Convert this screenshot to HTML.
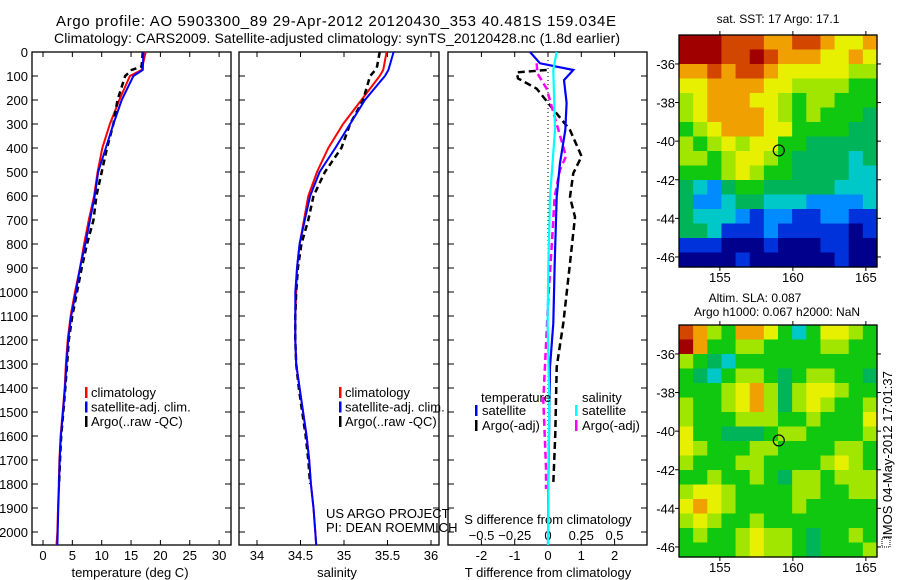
<!DOCTYPE html>
<html><head><meta charset="utf-8"><style>
body{margin:0;background:#fff;}
svg{display:block;font-family:"Liberation Sans",sans-serif;}
</style></head><body>
<svg id="fig" width="900" height="580" xmlns="http://www.w3.org/2000/svg">
<text x="56" y="26" font-size="15" textLength="560">Argo profile: AO 5903300_89 29-Apr-2012 20120430_353 40.481S 159.034E</text>
<text x="54" y="43" font-size="14" textLength="566">Climatology: CARS2009. Satellite-adjusted climatology: synTS_20120428.nc (1.8d earlier)</text>
<g id="g"></g>
</svg>
<script>
// ---- profile data ----
const tDepth=[0,75,100,200,300,400,500,600,700,800,900,1000,1100,1200,1300,1400,1500,1600,1700,1800,1900,2000,2054];
const tClim=[17.5,16.8,14.8,13.0,11.4,10.1,9.3,8.7,7.8,7.0,6.3,5.45,4.7,4.2,3.9,3.7,3.35,3.0,2.8,2.7,2.55,2.45,2.3];
const tSat=[17.1,17.0,15.4,13.4,12.0,10.7,9.4,8.8,8.0,7.2,6.3,5.6,4.8,4.3,4.0,3.75,3.4,3.05,2.85,2.75,2.6,2.5,2.45];
const argoDepth=[0,60,75,100,200,300,400,500,600,700,800,900,1000,1100,1200,1300,1400,1500,1600,1700,1800];
const tArgo=[17.0,16.8,15.1,14.0,12.7,12.0,10.9,10.0,9.1,8.6,7.5,6.6,5.8,5.0,4.4,4.1,3.8,3.45,3.1,2.9,2.75];
const sClim=[35.49,35.45,35.41,35.2,34.99,34.82,34.69,34.59,34.54,34.49,34.46,34.45,34.44,34.44,34.45,34.49,34.53,34.57,34.6,34.62,34.65,34.67,34.68];
const sSat=[35.57,35.51,35.47,35.24,35.07,34.9,34.72,34.61,34.55,34.49,34.46,34.44,34.44,34.44,34.45,34.49,34.53,34.57,34.6,34.62,34.65,34.67,34.68];
const sArgo=[35.41,35.38,35.36,35.3,35.22,35.07,34.97,34.78,34.65,34.59,34.51,34.47,34.45,34.44,34.44,34.45,34.48,34.52,34.56,34.59,34.61];
// differences
const dTsatDepth=[0,47,75,117,212,325,463,604,880,1130,1312,1812,2054];
const dTsat=[-0.54,-0.24,0.76,0.48,0.56,0.52,0.36,0.26,0.2,0.16,0.06,0.01,0];
const dTargoDepth=[75,85,110,153,222,325,435,505,604,688,880,1130,1312,1590,1799];
const dTargo=[-0.04,-0.94,-0.9,-0.34,0.06,0.66,1.01,0.76,0.66,0.81,0.66,0.46,0.26,0.22,0.16];
const dSsatDepth=[0,75,325,604,880,1130,1451,1812,2054];
const dSsat=[0.065,0.04,0.053,0.015,0.003,-0.003,0.01,0.003,0];
const dSargoDepth=[47,89,153,222,325,435,490,604,742,1020,1451,1729,1821];
const dSargo=[-0.085,-0.08,-0.01,0.025,0.078,0.135,0.09,0.05,0.035,0.003,-0.035,-0.015,-0.015];
const tTicks=[0,5,10,15,20,25,30];
const sTicks=[34,34.5,35,35.5,36];
const dtTicks=[-2,-1,0,1,2];
const dsTicks=[-0.5,-0.25,0,0.25,0.5];
const depthTicks=[0,100,200,300,400,500,600,700,800,900,1000,1100,1200,1300,1400,1500,1600,1700,1800,1900,2000];
// ---- map data (rows north->south, cols west->east) ----
const sstRows=["aaa99988998778","aaa99a98887787","88989987777766","77888877666655","67888776566555","67888876565554","56788877555544","65676775544444","66567765444434","55567655444433","43245544444333","42234433322223","43332122112211","44311121111101","11100010001100","00001000000100"];
const slaRows=["98658875357765","a8556655556655","65435555555555","54356654566554","55567864677655","65567864676556","65556665565557","75544456655556","76555665555665","65556655556765","55655654665666","67765555665566","78765555655555","67655655555555","56556766545565","55556766545556"];
const palette=["#00008c","#0032dc","#008cff","#00c8c8","#00b45a","#10c810","#a0e600","#e6f000","#f0a000","#d24600","#a00000"];
const mapLon=[155,160,165], mapLat=[-36,-38,-40,-42,-44,-46];
const argoLon=159.034, argoLat=-40.481;

const NS="http://www.w3.org/2000/svg";
const G=document.getElementById('g');
function el(tag,attrs,parent){const e=document.createElementNS(NS,tag);for(const k in attrs)e.setAttribute(k,attrs[k]);(parent||G).appendChild(e);return e;}
function txt(x,y,s,size,anchor,parent){const t=el('text',{x:x,y:y,'font-size':size,'text-anchor':anchor||'start'},parent);t.textContent=s;return t;}

const yD=d=>52+d*0.24;
const PT={x0:32,x1:231,f:v=>43+v*5.87};
const PS={x0:239,x1:439,f:v=>257+(v-34)*87};
const PD={x0:448,x1:647,f:v=>548+v*33.3};
const fS=v=>548+v*133;

function frame(P,name){
  const g=el('g',{});
  
  
  el('rect',{x:P.x0,y:52,width:P.x1-P.x0,height:493,fill:'none',stroke:'#000','stroke-width':1.3},g);
  depthTicks.forEach(d=>{
    el('line',{x1:P.x0,x2:P.x0+6,y1:yD(d),y2:yD(d),stroke:'#000'},g);
    el('line',{x1:P.x1-6,x2:P.x1,y1:yD(d),y2:yD(d),stroke:'#000'},g);
  });
  return g;
}
function line(xs,ds,fx,color,dash,w,name){
  const pts=xs.map((v,i)=>fx(v).toFixed(1)+','+yD(ds[i]).toFixed(1)).join(' ');
  const p=el('polyline',{points:pts,fill:'none',stroke:color,'stroke-width':w||2,'stroke-dasharray':dash||'none'});
  
  
}
// panel 1
frame(PT,'temperature-panel');
depthTicks.forEach(d=>{txt(28,yD(d)+5,String(d),13,'end');});
tTicks.forEach(v=>{const x=PT.f(v);el('line',{x1:x,x2:x,y1:52,y2:57,stroke:'#000'});el('line',{x1:x,x2:x,y1:540,y2:545,stroke:'#000'});txt(x,560,String(v),13,'middle');});
txt(130,577,'temperature (deg C)',13,'middle');
line(tClim,tDepth,PT.f,'#f00',null,2,'temperature-climatology-line');
line(tArgo,argoDepth,PT.f,'#000','6,4',2.5,'temperature-argo-line');
line(tSat,tDepth,PT.f,'#00f',null,2,'temperature-satellite-line');
// panel 2
frame(PS,'salinity-panel');
sTicks.forEach(v=>{const x=PS.f(v);el('line',{x1:x,x2:x,y1:52,y2:57,stroke:'#000'});el('line',{x1:x,x2:x,y1:540,y2:545,stroke:'#000'});txt(x,560,String(v),13,'middle');});
txt(337,577,'salinity',13,'middle');
line(sClim,tDepth,PS.f,'#f00',null,2,'salinity-climatology-line');
line(sArgo,argoDepth,PS.f,'#000','6,4',2.5,'salinity-argo-line');
line(sSat,tDepth,PS.f,'#00f',null,2,'salinity-satellite-line');
// legends
function legend(x,items,name){
  const g=el('g',{});
  
  
  items.forEach((it,i)=>{const y=397+i*14.5;el('rect',{x:x-6,y:y-10,width:2.5,height:11,fill:it[1]},g);txt(x,y,it[0],13,'start',g);});
}
legend(91,[['climatology','#f00'],['satellite-adj. clim.','#00f'],['Argo(..raw -QC)','#000']],'temperature-legend');
legend(345,[['climatology','#f00'],['satellite-adj. clim.','#00f'],['Argo(..raw -QC)','#000']],'salinity-legend');
txt(326,518,'US ARGO PROJECT',13);
txt(326,532,'PI: DEAN ROEMMICH',13);
// panel 3
frame(PD,'difference-panel');
el('line',{x1:548,x2:548,y1:52,y2:545,stroke:'#000','stroke-width':1,'stroke-dasharray':'1,3'});
dtTicks.forEach(v=>{const x=PD.f(v);el('line',{x1:x,x2:x,y1:52,y2:57,stroke:'#000'});el('line',{x1:x,x2:x,y1:540,y2:545,stroke:'#000'});txt(x,560,String(v),13,'middle');});
dsTicks.forEach(v=>{txt(fS(v),540,String(v).replace('-','\u2212'),13,'middle');});
txt(548,524,'S difference from climatology',13,'middle');
txt(548,577,'T difference from climatology',13,'middle');
line(dTargo,dTargoDepth,PD.f,'#000','7,4',2.5,'t-diff-argo-line');
line(dSargo,dSargoDepth,fS,'#f0f','7,4',2.5,'s-diff-argo-line');
line(dTsat,dTsatDepth,PD.f,'#00f',null,2.2,'t-diff-satellite-line');
line(dSsat,dSsatDepth,fS,'#0ff',null,2.2,'s-diff-satellite-line');
txt(481,402,'temperature',13);
txt(582,402,'salinity',13);
function leg2(x,y,s,c){el('rect',{x:x-7,y:y-10,width:2.5,height:11,fill:c});txt(x,y,s,13);}
leg2(482,415,'satellite','#00f');leg2(482,430,'Argo(-adj)','#000');
leg2(582,415,'satellite','#0ff');leg2(582,430,'Argo(-adj)','#f0f');
// maps
function map(y0,rows,name){
  const x0=679,x1=877,y1=y0+232;
  const lonF=v=>x0+(v-152.2)*14.6, latF=v=>y0+(-34.5-v)*19.3;
  const g=el('g',{});
  
  
  const nc=rows[0].length,nr=rows.length,cw=(x1-x0)/nc,ch=(y1-y0)/nr;
  rows.forEach((r,i)=>{for(let j=0;j<nc;j++){const c=el('rect',{x:(x0+j*cw).toFixed(2),y:(y0+i*ch).toFixed(2),width:(cw+0.6).toFixed(2),height:(ch+0.6).toFixed(2),fill:palette[parseInt(r[j],16)]},g);
    
    }});
  el('rect',{x:x0,y:y0,width:x1-x0,height:y1-y0,fill:'none',stroke:'#000','stroke-width':1.3},g);
  mapLon.forEach(v=>{const x=lonF(v);el('line',{x1:x,x2:x,y1:y0-4,y2:y0,stroke:'#000'},g);el('line',{x1:x,x2:x,y1:y1,y2:y1+4,stroke:'#000'},g);txt(x,y1+15,String(v),13,'middle',g);});
  mapLat.forEach(v=>{const y=latF(v);el('line',{x1:x0-4,x2:x0,y1:y,y2:y,stroke:'#000'},g);el('line',{x1:x1,x2:x1+4,y1:y,y2:y,stroke:'#000'},g);txt(675,y+5,String(v),13,'end',g);});
  const c=el('circle',{cx:lonF(argoLon),cy:latF(argoLat),r:5.5,fill:'none',stroke:'#000','stroke-width':1.2},g);
  
  
}
map(35,sstRows,'sst-map');
map(325,slaRows,'sla-map');
txt(778,23,'sat. SST: 17 Argo: 17.1',12,'middle');
txt(755,302,'Altim. SLA: 0.087',12,'middle');
txt(777,316,'Argo h1000: 0.067 h2000: NaN',12,'middle');
el('rect',{x:882,y:538,width:8,height:9,fill:'none',stroke:'#000','stroke-width':1,'stroke-dasharray':'1,1'});
const r=txt(0,0,'IMOS 04-May-2012 17:01:37',13,'middle');
r.setAttribute('transform','translate(892,455) rotate(-90)');


</script>
</body></html>
